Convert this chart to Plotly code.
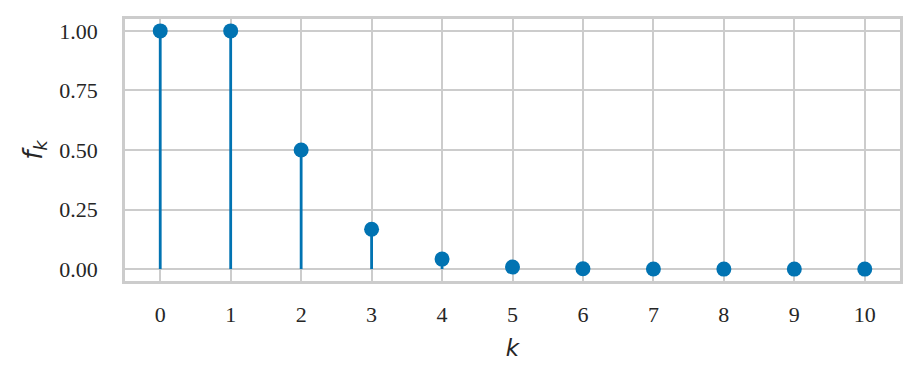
import plotly.graph_objects as go

k_values = [0, 1, 2, 3, 4, 5, 6, 7, 8, 9, 10]
f_values = [1.0, 1.0, 0.5, 0.167, 0.042, 0.0083, 0.0014, 0.0002, 0.000025, 0.0000028, 0.00000028]
y_ticks = [0.0, 0.25, 0.5, 0.75, 1.0]
y_tick_labels = ["0.00", "0.25", "0.50", "0.75", "1.00"]

color = "#0173b2"
grid = "#cccccc"

stem_x, stem_y = [], []
for k, v in zip(k_values, f_values):
    stem_x += [k, k, None]
    stem_y += [0, v, None]

fig = go.Figure()
fig.add_trace(go.Scatter(x=stem_x, y=stem_y, mode="lines",
                         line=dict(color=color, width=2.8), hoverinfo="skip", showlegend=False))
fig.add_trace(go.Scatter(x=k_values, y=f_values, mode="markers",
                         marker=dict(color=color, size=15, line=dict(width=0)), showlegend=False))

fig.update_layout(
    width=920, height=386,
    margin=dict(l=125, r=20, t=19, b=105),
    plot_bgcolor="white", paper_bgcolor="white",
    font=dict(family="Liberation Serif", size=22, color="#262626"),
)
fig.update_xaxes(
    range=[-0.5, 10.5], tickmode="array", tickvals=k_values,
    ticktext=[str(k) for k in k_values],
    showgrid=True, gridcolor=grid, gridwidth=1.6, zeroline=False,
    showline=True, mirror=True, linecolor=grid, linewidth=2.5,
    ticks="outside", ticklen=12, tickcolor="rgba(0,0,0,0)",
    title=dict(text="<i>k</i>", font=dict(family="DejaVu Sans", size=23, color="#262626"), standoff=14),
)
fig.update_yaxes(
    range=[-0.05, 1.05], tickmode="array", tickvals=y_ticks, ticktext=y_tick_labels,
    showgrid=True, gridcolor=grid, gridwidth=1.6, zeroline=False,
    showline=True, mirror=True, linecolor=grid, linewidth=2.5,
    ticks="outside", ticklen=20, tickcolor="rgba(0,0,0,0)",
    title=dict(text="<i>f</i><sub><i>k</i></sub>", font=dict(family="DejaVu Sans", size=26, color="#262626"), standoff=10),
)

fig.write_html("out.html")
